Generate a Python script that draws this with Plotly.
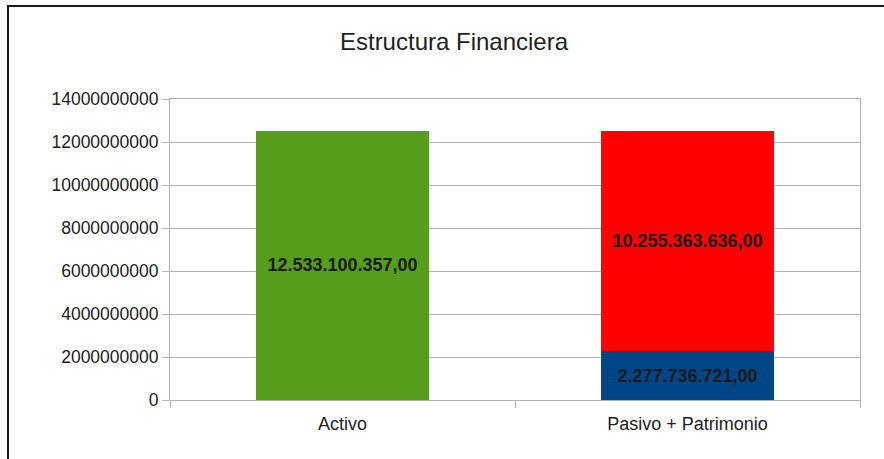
import plotly.graph_objects as go

categories = ["Activo", "Pasivo + Patrimonio"]
activo = [12533100357.00, None]
pasivo = [None, 2277736721.00]
patrimonio = [None, 10255363636.00]
y_ticks = [0, 2000000000, 4000000000, 6000000000, 8000000000, 10000000000, 12000000000, 14000000000]

FONT = "Liberation Sans, Arial, sans-serif"


def fmt(v):
    if v is None:
        return ""
    s = f"{v:,.2f}"
    return s.replace(",", "X").replace(".", ",").replace("X", ".")


def trace(vals, color):
    return go.Bar(
        x=categories, y=vals, marker=dict(color=color, line=dict(width=0)),
        text=[fmt(v) for v in vals], textposition="inside", insidetextanchor="middle",
        textfont=dict(family=FONT, size=18, color="#1a1a1a"),
        texttemplate="<b>%{text}</b>", constraintext="none", hoverinfo="skip",
    )


fig = go.Figure()
fig.add_trace(trace(activo, "#579d1c"))
fig.add_trace(trace(pasivo, "#004586"))
fig.add_trace(trace(patrimonio, "#ff0000"))

fig.update_layout(
    width=884, height=459, barmode="stack", bargap=0.5, showlegend=False,
    paper_bgcolor="white", plot_bgcolor="white",
    margin=dict(l=170, r=24, t=99, b=59),
    font=dict(family=FONT, size=18, color="#222222"),
    title=dict(text="Estructura Financiera", x=454 / 884, xanchor="center", xref="container",
               y=1 - 42 / 459, yanchor="middle",
               font=dict(size=24, color="#222222")),
    uniformtext=dict(mode=False),
)
fig.update_yaxes(
    range=[0, 14000000000], tickvals=y_ticks, ticktext=[str(v) for v in y_ticks],
    showgrid=True, gridcolor="#b3b3b3", gridwidth=1,
    showline=True, linecolor="#b3b3b3", linewidth=1, mirror=True,
    ticks="outside", ticklen=7, tickcolor="#b3b3b3", zeroline=False,
    tickfont=dict(family=FONT, size=17.5, color="#222222"),
)
fig.update_xaxes(
    showline=True, linecolor="#b3b3b3", linewidth=1, mirror=True,
    ticks="outside", ticklen=7, tickcolor="#b3b3b3", tickson="boundaries",
    ticklabelstandoff=7,
    showgrid=False, tickfont=dict(family=FONT, size=18, color="#222222"),
)
fig.add_shape(type="rect", xref="paper", yref="paper",
              x0=(8 - 170) / 690, x1=2, y0=-1, y1=(400 - 6) / 301,
              line=dict(color="#1a1a1a", width=2), layer="below")
fig.write_html("out.html", config={"displayModeBar": False},
               post_script="document.body.style.margin='0px';document.body.style.overflow='hidden';")
